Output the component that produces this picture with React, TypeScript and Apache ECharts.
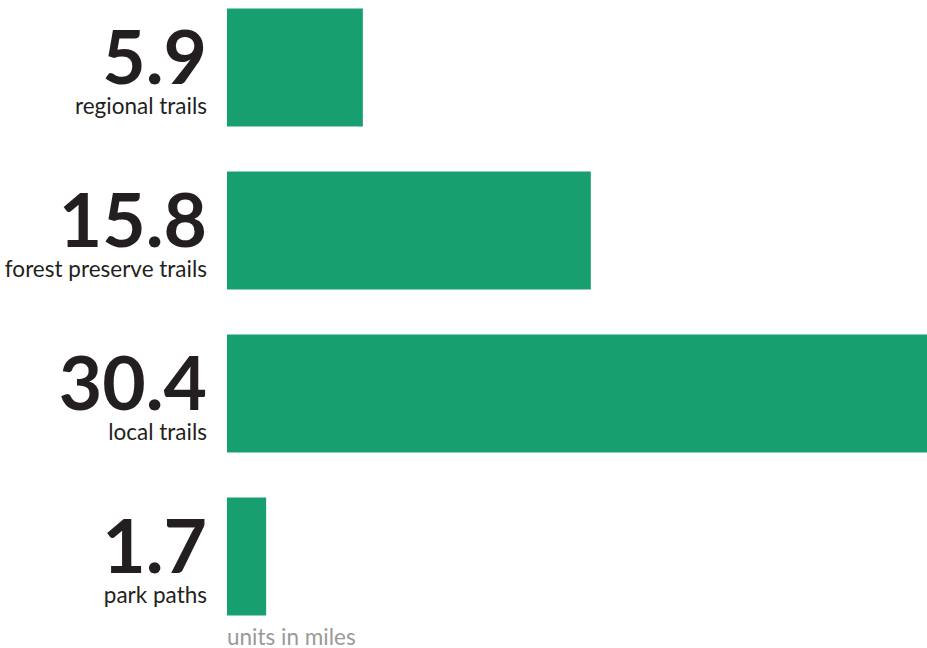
import React, { useEffect, useRef } from "react";
import * as echarts from "echarts";

const categories = ["regional trails", "forest preserve trails", "local trails", "park paths"];
const values = [5.9, 15.8, 30.4, 1.7];
const unitNote = "units in miles";

const SHIFT = 14.5;

export default function App() {
  const ref = useRef<HTMLDivElement>(null);
  useEffect(() => {
    document.body.style.margin = "0";
    const chart = echarts.init(ref.current!, null, { renderer: "svg" });
    chart.setOption({
      animation: false,
      grid: { left: 227, right: 0, top: 0, height: 652, outerBoundsMode: "none", containLabel: false },
      xAxis: { type: "value", min: 0, max: 30.4, show: false },
      yAxis: {
        type: "category",
        data: categories,
        inverse: true,
        axisLine: { show: false },
        axisTick: { show: false },
        splitLine: { show: false },
        axisLabel: {
          margin: 20,
          align: "right",
          formatter: (v: string, i: number) => `{num|${values[i]}}\n{cat|${v}}`,
          rich: {
            num: {
              fontFamily: "Lato",
              fontWeight: 700,
              fontSize: 75,
              lineHeight: 76,
              color: "#231f20",
              align: "right",
            },
            cat: {
              fontFamily: "Lato",
              fontSize: 22.5,
              lineHeight: 26,
              color: "#231f20",
              align: "right",
            },
          },
        },
      },
      series: [
        {
          type: "bar",
          data: values,
          barWidth: 118,
          itemStyle: { color: "#189f70" },
        },
      ],
      graphic: [
        {
          type: "text",
          x: 227,
          y: 636 + SHIFT,
          style: {
            text: unitNote,
            fill: "#9a9a9a",
            fontSize: 22.5,
            lineHeight: 20,
            fontFamily: "Lato",
            verticalAlign: "middle",
          },
        },
      ],
    });
    return () => chart.dispose();
  }, []);
  return (
    <div
      ref={ref}
      style={{ position: "absolute", left: 0, top: -SHIFT, width: 927, height: 648 + SHIFT }}
    />
  );
}
